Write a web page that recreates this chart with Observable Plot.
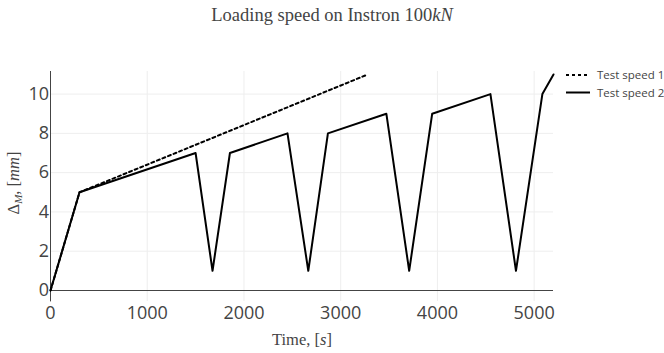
<!DOCTYPE html>
<html>
<head>
<meta charset="utf-8">
<script src="https://cdn.jsdelivr.net/npm/d3@7"></script>
<script src="https://cdn.jsdelivr.net/npm/@observablehq/plot@0.6"></script>
<style>
  html, body { margin: 0; padding: 0; background: #fff; }
  #chart svg { display: block; }
</style>
</head>
<body>
<div id="chart"></div>
<script>
// Axis ticks
const xTicks = [0, 1000, 2000, 3000, 4000, 5000];
const yTicks = [0, 2, 4, 6, 8, 10];

// Test speed 1: constant loading rate (time in s, displacement in mm)
const speed1Time = [0, 300, 3280];
const speed1Disp = [0, 5, 11];

// Test speed 2: loading with unload cycles
const speed2Time = [0, 300, 1500, 1675, 1855, 2450, 2665, 2868, 3472, 3708, 3946, 4548, 4812, 5085, 5200];
const speed2Disp = [0, 5, 7, 1, 7, 8, 1, 8, 9, 1, 9, 10, 1, 10, 11];

const seriesNames = ["Test speed 1", "Test speed 2"];

const speed1 = speed1Time.map((t, i) => ({t, d: speed1Disp[i]}));
const speed2 = speed2Time.map((t, i) => ({t, d: speed2Disp[i]}));

const W = 664, H = 353;
const xDomain = [0, 5200];
const yDomain = [0, 11.15];
const tickFont = "Open Sans, Verdana, Arial, sans-serif";

const plot = Plot.plot({
  width: W,
  height: H,
  marginLeft: 50,
  marginRight: 111,
  marginTop: 71,
  marginBottom: 63,
  style: {background: "#fff", fontFamily: tickFont},
  x: {domain: xDomain},
  y: {domain: yDomain},
  marks: [
    // grid
    Plot.ruleX(xTicks.filter(v => v !== 0), {stroke: "#eee", strokeWidth: 1}),
    Plot.ruleY(yTicks.filter(v => v !== 0), {stroke: "#eee", strokeWidth: 1}),
    Plot.axisX({ticks: xTicks, tickSize: 11, tickPadding: 5, stroke: "#eee", fill: "#444",
      fontSize: 18, tickFormat: d => String(d), label: null}),
    Plot.axisY({ticks: yTicks, tickSize: 0, tickPadding: 1.5, fill: "#444",
      fontSize: 18, tickFormat: d => String(d), label: null}),
    // zero lines
    Plot.ruleY([0], {stroke: "#444", strokeWidth: 1}),
    Plot.ruleX([0], {y1: -0.58, y2: yDomain[1], stroke: "#444", strokeWidth: 1}),
    // series
    Plot.line(speed1, {x: "t", y: "d", stroke: "#000", strokeWidth: 2, strokeDasharray: "3,3"}),
    Plot.line(speed2, {x: "t", y: "d", stroke: "#000", strokeWidth: 2})
  ]
});

const svg = d3.select(plot);
const serif = "'Liberation Serif', 'DejaVu Serif', serif";

// Title
const title = svg.append("text")
  .attr("x", W / 2).attr("y", 21)
  .attr("text-anchor", "middle")
  .attr("font-family", serif).attr("font-size", 18.5).attr("fill", "#444");
title.append("tspan").text("Loading speed on Instron 100");
title.append("tspan").attr("font-style", "italic").text("kN");

// X axis title
const xt = svg.append("text")
  .attr("x", 302).attr("y", 345)
  .attr("text-anchor", "middle")
  .attr("font-family", serif).attr("font-size", 16.5).attr("fill", "#444");
xt.append("tspan").text("Time, [");
xt.append("tspan").attr("font-style", "italic").text("s");
xt.append("tspan").text("]");

// Y axis title
const yt = svg.append("text")
  .attr("transform", "translate(19,183) rotate(-90)")
  .attr("text-anchor", "middle")
  .attr("font-family", serif).attr("font-size", 16.5).attr("fill", "#444");
yt.append("tspan").text("Δ");
yt.append("tspan").attr("font-style", "italic").attr("font-size", 11).attr("dy", 3).text("M");
yt.append("tspan").attr("dy", -3).text(", [");
yt.append("tspan").attr("font-style", "italic").text("mm");
yt.append("tspan").text("]");

// Legend
const legend = svg.append("g")
  .attr("font-family", tickFont).attr("font-size", 11.5).attr("fill", "#444")
  .attr("text-anchor", "start");
const rows = [{y: 75, dash: "3,3"}, {y: 92.5, dash: null}];
rows.forEach((r, i) => {
  const ln = legend.append("line")
    .attr("x1", 566).attr("x2", 590).attr("y1", r.y).attr("y2", r.y)
    .attr("stroke", "#000").attr("stroke-width", 2);
  if (r.dash) ln.attr("stroke-dasharray", r.dash);
  legend.append("text").attr("x", 597).attr("y", r.y).attr("dy", "0.35em")
    .attr("text-anchor", "start").attr("font-size", 11.5).text(seriesNames[i]);
});

document.getElementById("chart").appendChild(plot);
</script>
</body>
</html>
